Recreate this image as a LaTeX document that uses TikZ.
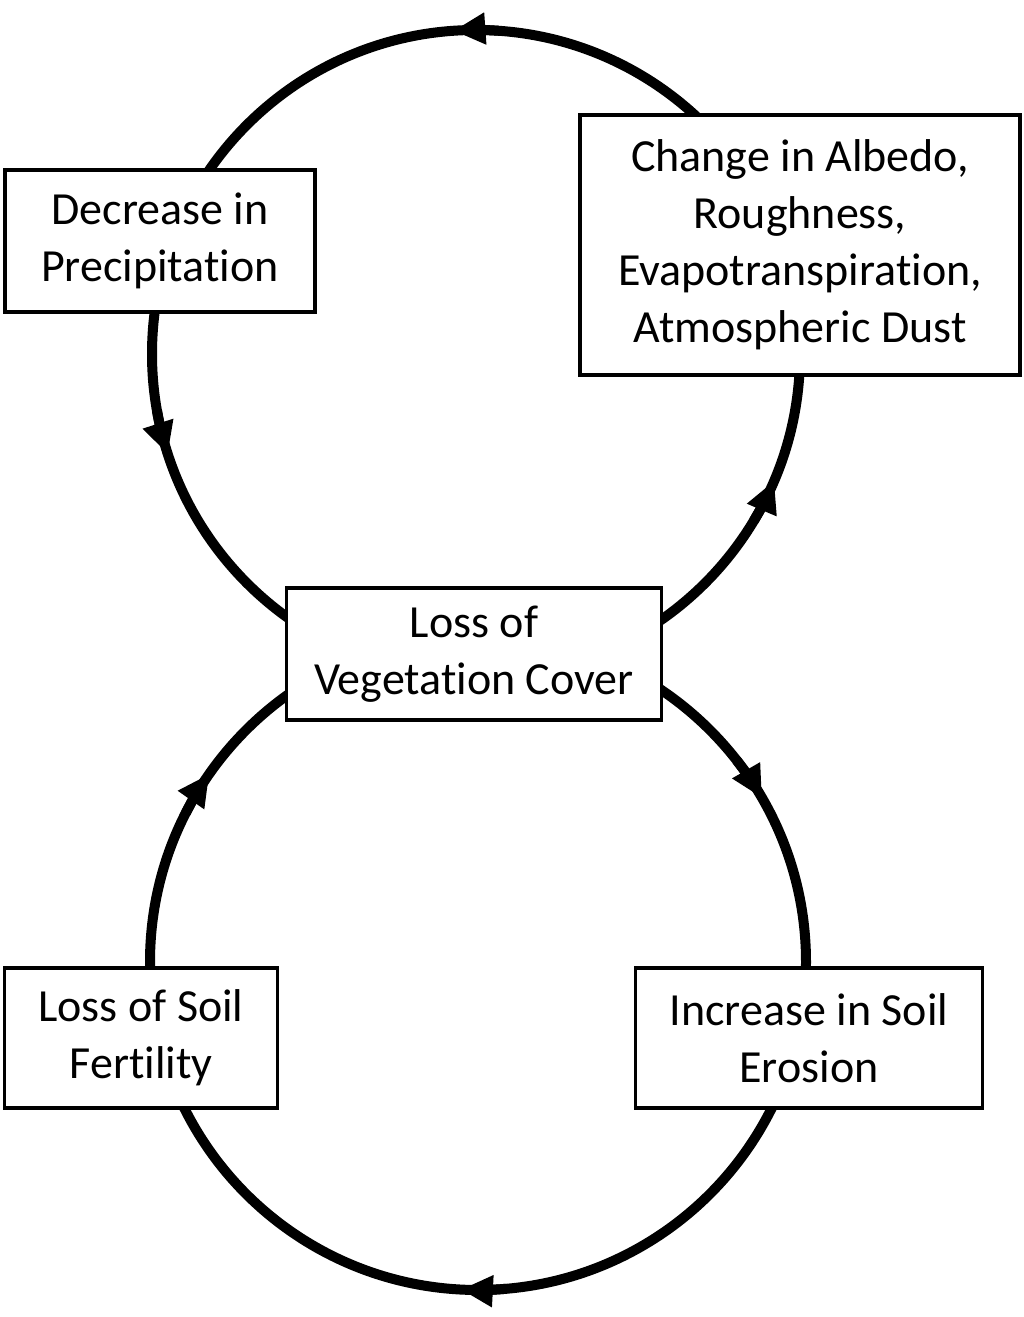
\documentclass[tikz,border=0pt]{standalone}
\usepackage{fontspec}
\setmainfont[Ligatures=NoCommon]{Carlito}
\usetikzlibrary{arrows.meta}
\begin{document}
\begin{tikzpicture}[x=1pt,y=1pt,
  box/.style={draw,line width=3.5pt,fill=white,align=center,font=\fontsize{46}{57}\selectfont,inner sep=0pt},
  loop/.style={line width=10pt},
  tip/.style={line width=10pt,-{Triangle[length=32pt,width=30pt]}}]
\useasboundingbox (0,0) rectangle (1024,1317);
\coordinate (ct) at (476,963);
\coordinate (cb) at (478,355);
\draw[loop] (ct) circle (324);
\draw[loop] (cb) circle (328);
% top loop counterclockwise
\foreach \a in {86,190,329} \draw[tip] (ct) ++(\a:324) arc (\a:\a+8:324);
% bottom loop clockwise
\foreach \a in {275,153,38} \draw[tip] (cb) ++(\a:328) arc (\a:\a-8:328);
\node[box,minimum width=310,minimum height=142] (dp) at (160,1076) {Decrease in\\Precipitation};
\node[box,minimum width=440,minimum height=260] (ca) at (800,1072) {Change in Albedo,\\Roughness,\\Evapotranspiration,\\Atmospheric Dust};
\node[box,minimum width=375,minimum height=132] (lv) at (474,663) {Loss of\\Vegetation Cover};
\node[box,minimum width=273,minimum height=140] (ls) at (141,279) {Loss of Soil\\Fertility};
\node[box,minimum width=347,minimum height=140] (ie) at (809,279) {Increase in Soil\\Erosion};
\end{tikzpicture}
\end{document}
